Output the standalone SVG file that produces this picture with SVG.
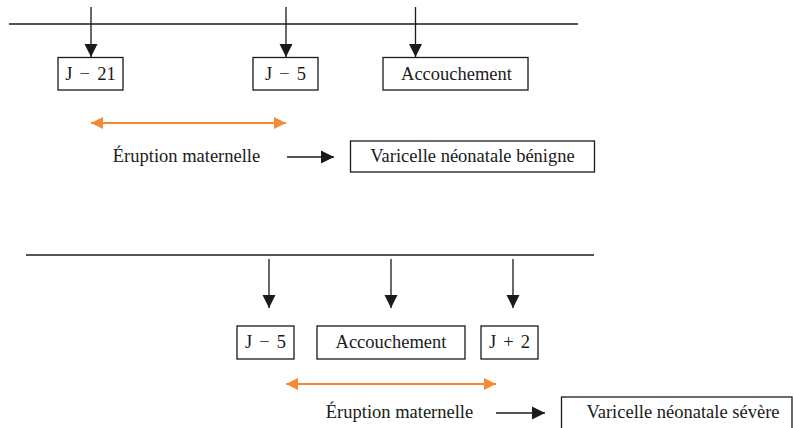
<svg xmlns="http://www.w3.org/2000/svg" width="793" height="428" viewBox="0 0 793 428">
<style>
  .box { fill: #ffffff; stroke: #1a1a1a; stroke-width: 1.3; }
  .t { font-family: "Liberation Serif", "Times New Roman", serif; font-size: 18.5px; fill: #1a1a1a; text-anchor: middle; }
  .j { word-spacing: 2.5px; }
  .axis { stroke: #1a1a1a; stroke-width: 1.6; fill: none; }
  .arr { stroke: #1a1a1a; stroke-width: 1.3; fill: none; marker-end: url(#ah); }
  .orange { stroke: #f28a38; stroke-width: 1.8; fill: none; marker-start: url(#oh-s); marker-end: url(#oh-e); }
</style>
<defs>
  <marker id="ah" markerUnits="userSpaceOnUse" markerWidth="14" markerHeight="14" viewBox="0 0 14 14" refX="13" refY="7" orient="auto">
    <path d="M0,0.5 L13,7 L0,13.5 Z" fill="#1a1a1a"/>
  </marker>
  <marker id="oh-e" markerUnits="userSpaceOnUse" markerWidth="13" markerHeight="12" viewBox="0 0 13 12" refX="12" refY="6" orient="auto">
    <path d="M0,0 L12,6 L0,12 Z" fill="#f28a38"/>
  </marker>
  <marker id="oh-s" markerUnits="userSpaceOnUse" markerWidth="13" markerHeight="12" viewBox="0 0 13 12" refX="1" refY="6" orient="auto">
    <path d="M13,0 L1,6 L13,12 Z" fill="#f28a38"/>
  </marker>
</defs>
<rect width="793" height="428" fill="#ffffff"/>

<g id="connectors">
  <line class="axis" x1="9" y1="24" x2="578" y2="24"/>
  <line class="arr" x1="91" y1="7" x2="91" y2="57"/>
  <line class="arr" x1="286" y1="7" x2="286" y2="57"/>
  <line class="arr" x1="415.5" y1="7" x2="415.5" y2="57"/>
  <line class="orange" x1="91" y1="123" x2="286" y2="123"/>
  <line class="arr" x1="287" y1="157" x2="334" y2="157"/>

  <line class="axis" x1="26" y1="255" x2="594" y2="255"/>
  <line class="arr" x1="269" y1="259" x2="269" y2="308"/>
  <line class="arr" x1="391" y1="259" x2="391" y2="308"/>
  <line class="arr" x1="513" y1="259" x2="513" y2="308"/>
  <line class="orange" x1="286" y1="384" x2="496" y2="384"/>
  <line class="arr" x1="496" y1="413" x2="545" y2="413"/>
</g>

<g id="n-j21-top">
  <rect class="box" x="58" y="57.5" width="65" height="32.5"/>
  <text class="t j" x="90.5" y="80">J − 21</text>
</g>
<g id="n-j5-top">
  <rect class="box" x="253" y="57.5" width="65" height="32.5"/>
  <text class="t j" x="285.5" y="80">J − 5</text>
</g>
<g id="n-accouchement-top">
  <rect class="box" x="383" y="57.5" width="145" height="32.5"/>
  <text class="t" x="456.5" y="80">Accouchement</text>
</g>
<g id="n-eruption-top">
  <text class="t" x="186.5" y="162">Éruption maternelle</text>
</g>
<g id="n-benigne">
  <rect class="box" x="350.5" y="141" width="244" height="31"/>
  <text class="t" x="472.5" y="162">Varicelle néonatale bénigne</text>
</g>

<g id="n-j5-bottom">
  <rect class="box" x="237" y="326" width="57" height="33"/>
  <text class="t j" x="265.5" y="348">J − 5</text>
</g>
<g id="n-accouchement-bottom">
  <rect class="box" x="317" y="326" width="148" height="33"/>
  <text class="t" x="391" y="348">Accouchement</text>
</g>
<g id="n-j2-bottom">
  <rect class="box" x="481" y="326" width="57" height="33"/>
  <text class="t j" x="509.5" y="348">J + 2</text>
</g>
<g id="n-eruption-bottom">
  <text class="t" x="399.5" y="418">Éruption maternelle</text>
</g>
<g id="n-severe">
  <rect class="box" x="561.5" y="397" width="230.5" height="45"/>
  <text class="t" x="683" y="418">Varicelle néonatale sévère</text>
</g>
</svg>
